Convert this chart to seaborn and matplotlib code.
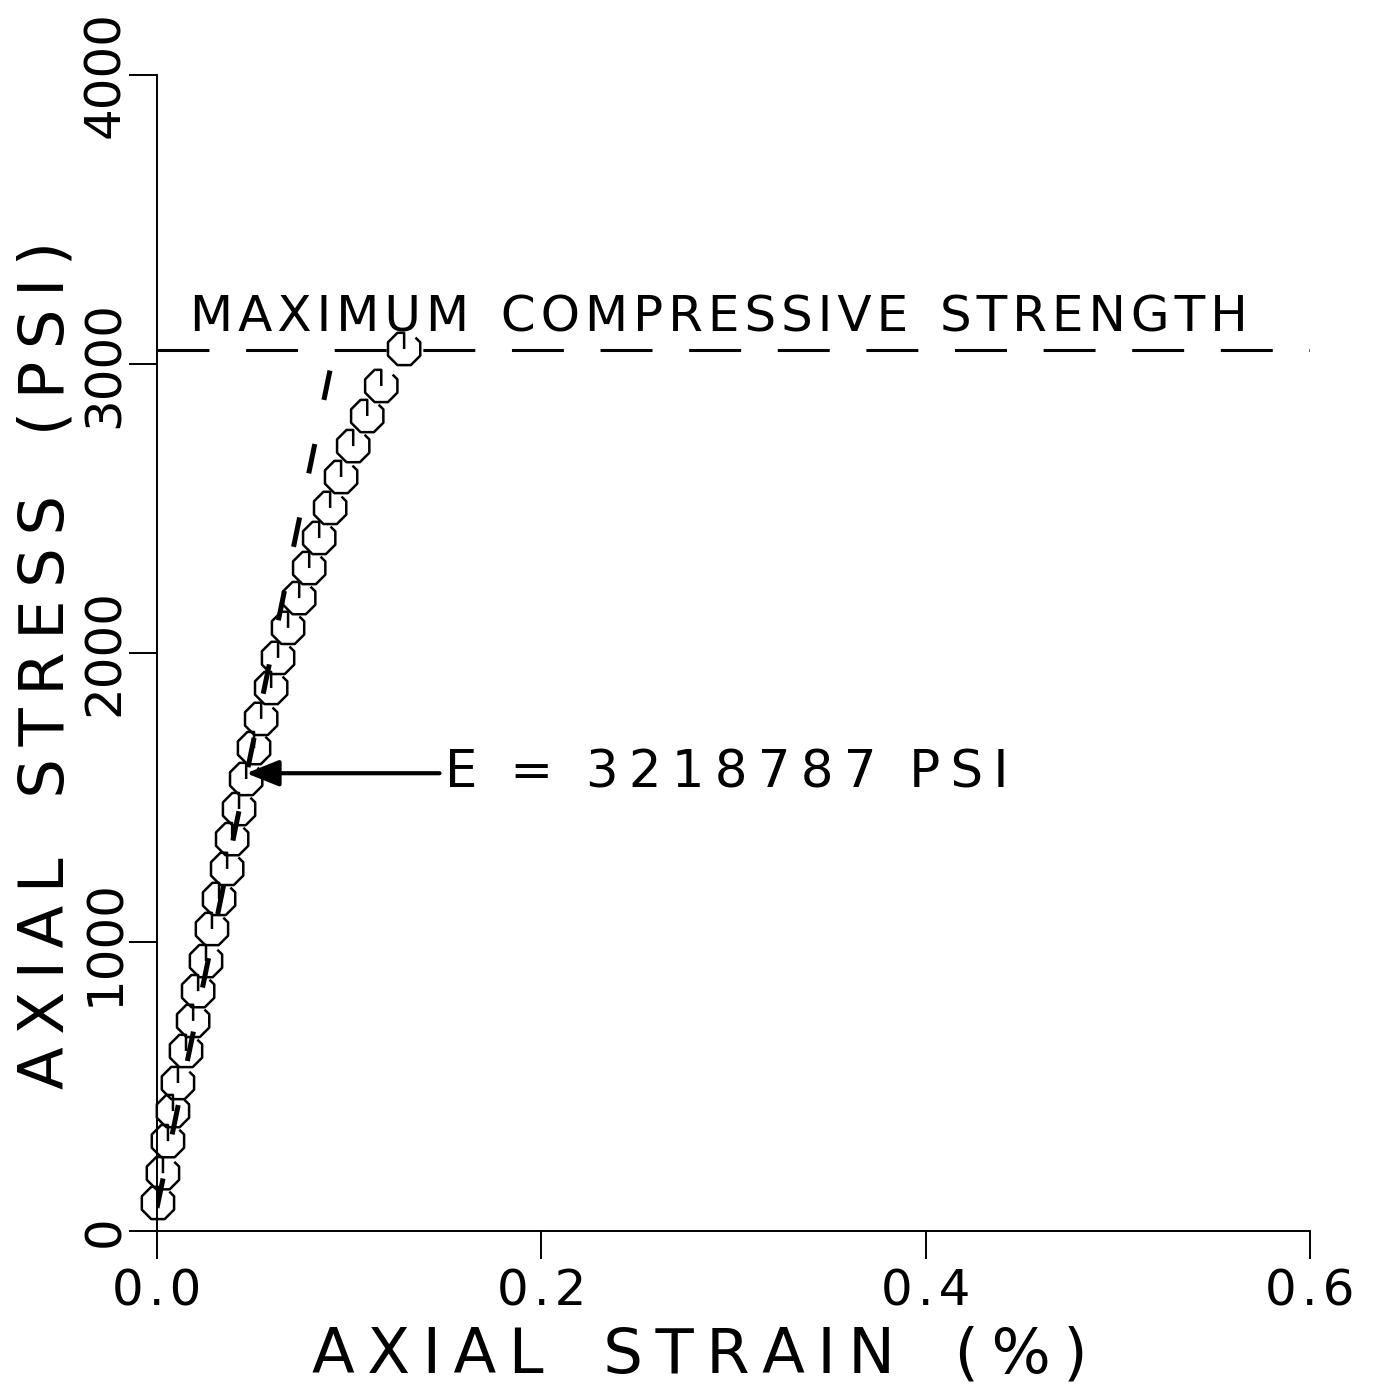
import numpy as np
import pandas as pd
import matplotlib
matplotlib.use("Agg")
import matplotlib.pyplot as plt
from matplotlib.path import Path
import seaborn as sns

# ---------------- data ----------------
strain = [0.0005, 0.0031, 0.0057, 0.0083, 0.0109, 0.0151, 0.0188, 0.0214,
          0.0255, 0.0286, 0.0323, 0.0365, 0.0391, 0.0427, 0.0464, 0.0505,
          0.0542, 0.0594, 0.0630, 0.0682, 0.0740, 0.0792, 0.0844, 0.0901,
          0.0958, 0.1021, 0.1094, 0.1167, 0.1286]
stress = [97, 200, 311, 415, 512, 623, 727, 830, 934, 1045, 1149, 1253,
          1356, 1460, 1564, 1671, 1772, 1879, 1983, 2087, 2190, 2294, 2398,
          2502, 2609, 2716, 2820, 2924, 3052]
max_strength = 3050
e_modulus = 3218787
fit_intercept = 80
arrow_index = 14
x_ticks = [0.0, 0.2, 0.4, 0.6]
x_tick_labels = ["0.0", "0.2", "0.4", "0.6"]
y_ticks = [0, 1000, 2000, 3000, 4000]
y_tick_labels = ["0", "1000", "2000", "3000", "4000"]
x_label = "AXIAL STRAIN (%)"
y_label = "AXIAL STRESS (PSI)"
mcs_label = "MAXIMUM COMPRESSIVE STRENGTH"
e_label = "E = 3218787 PSI"

df = pd.DataFrame({"strain": strain, "stress": stress})

fit_strain = np.linspace(0, (max_strength - fit_intercept) / (e_modulus / 100), 60)
fit_df = pd.DataFrame({"strain": fit_strain,
                       "stress": fit_intercept + e_modulus / 100 * fit_strain})

# ---------------- style ----------------
sns.set_style("ticks")
plt.rcParams["font.family"] = ["DejaVu Sans"]
plt.rcParams["axes.linewidth"] = 1.4
for k in ["text.color", "axes.labelcolor", "xtick.color", "ytick.color",
          "axes.edgecolor"]:
    plt.rcParams[k] = "black"

THIN = "\u2009"
HAIR = "\u200a"


def spaced(s, sep=THIN, word_sep="   "):
    return word_sep.join(sep.join(w) for w in s.split(" "))


# plotter-style open octagon with a stroke to the centre
ang = np.deg2rad([112.5, 157.5, 202.5, 247.5, 292.5, 337.5, 22.5])
verts = [(0.0, 0.0), (0.0, 0.924)] + [(np.cos(a), np.sin(a)) for a in ang] + [(0.65, 0.65)]
codes = [Path.MOVETO] + [Path.LINETO] * (len(verts) - 1)
octa = Path(verts, codes)

fig = plt.figure(figsize=(13.77, 13.84), dpi=100)
ax = fig.add_axes([157 / 1377, 1 - 1231 / 1384, (1310 - 157) / 1377, (1231 - 75) / 1384])

# fitted modulus line
sns.lineplot(data=fit_df, x="strain", y="stress", ax=ax, color="black",
             lw=3.6, linestyle=(0, (6, 9)), estimator=None, sort=False)

# max compressive strength line
ax.axhline(max_strength, color="black", lw=2.2, linestyle=(0, (17, 12)))

# data points
sns.scatterplot(data=df, x="strain", y="stress", ax=ax, marker=octa, s=540,
                facecolors="none", edgecolor="black", linewidth=1.8,
                clip_on=False, zorder=5)

# arrow + modulus text
ax.annotate("", xy=(strain[arrow_index], stress[arrow_index] + 20),
            xytext=(0.147, stress[arrow_index] + 20),
            arrowprops=dict(arrowstyle="-|>,head_length=2.0,head_width=0.8",
                            lw=3, color="black", shrinkA=0, shrinkB=0))
ax.text(0.150, stress[arrow_index] + 20, spaced(e_label, word_sep="  "),
        fontsize=37, va="center", ha="left")

ax.text(0.017, 3112, spaced(mcs_label, sep=HAIR, word_sep="  "),
        fontsize=36, va="baseline", ha="left")

ax.set_xlim(0, 0.6)
ax.set_ylim(0, 4000)
ax.set_xticks(x_ticks)
ax.set_xticklabels([spaced(t, sep=HAIR) for t in x_tick_labels], fontsize=36)
ax.set_yticks(y_ticks)
ax.set_yticklabels(y_tick_labels, fontsize=36, rotation=90, va="center")
ax.tick_params(direction="out", length=20, width=1.4)
ax.tick_params(axis="x", pad=6)
ax.tick_params(axis="y", pad=0)
ax.set_xlabel(spaced(x_label), fontsize=45)
ax.set_ylabel(spaced(y_label), fontsize=45)
ax.xaxis.set_label_coords(0.471, -0.082)
ax.yaxis.set_label_coords(-0.070, 0.49)
sns.despine(ax=ax)

fig.savefig("out.png", dpi=100)
